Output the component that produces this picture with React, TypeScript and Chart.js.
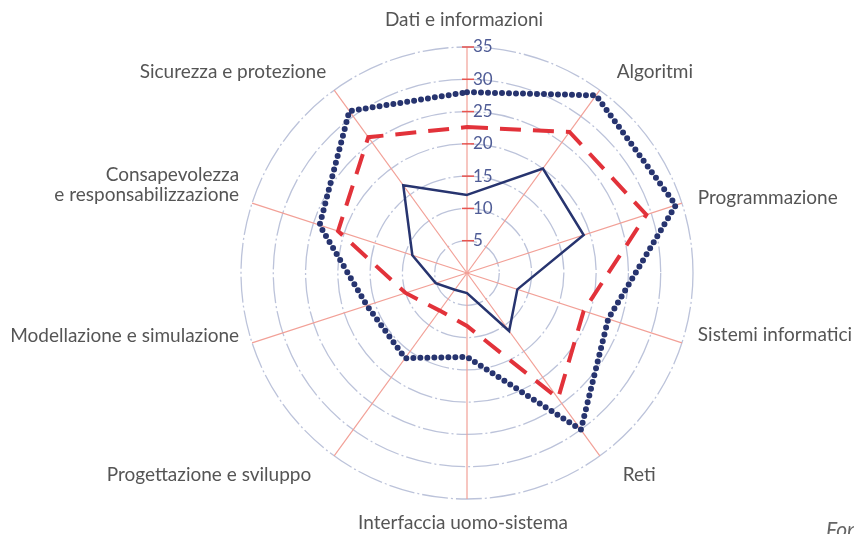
import React, { useEffect, useRef } from "react";
import { Chart, registerables } from "chart.js";

Chart.register(...registerables);

const categories: (string | string[])[] = [
  "Dati e informazioni",
  "Algoritmi",
  "Programmazione",
  "Sistemi informatici",
  "Reti",
  "Interfaccia uomo-sistema",
  "Progettazione e sviluppo",
  "Modellazione e simulazione",
  ["Consapevolezza", "e responsabilizzazione"],
  "Sicurezza e protezione",
];

const seriesDotted = [28, 34, 34, 23, 30, 13, 16.3, 16.3, 24, 31];
const seriesDashed = [22.6, 27, 29.2, 19, 24, 8.2, 7.2, 10, 21, 26];
const seriesSolid = [12.1, 20, 19, 8.2, 11.1, 3.1, 3.2, 5.1, 8.9, 16.8];

const scaleMin = 0;
const scaleMax = 35;
const scaleStep = 5;

const footText = "Fonte";

const NAVY = "#27346f";
const RED = "#e2323a";
const LABEL_FONT = "19px Lato";

// label placement tweaks (alignment/nudges), relative to the scale's point position
const labelNudges: { align: CanvasTextAlign; dx: number; dy: number }[] = [
  { align: "center", dx: -3, dy: -5 },
  { align: "left", dx: 4, dy: 0 },
  { align: "left", dx: -5, dy: 2 },
  { align: "left", dx: -5, dy: -15 },
  { align: "left", dx: 10, dy: 1 },
  { align: "center", dx: -4, dy: 2 },
  { align: "right", dx: -10, dy: 1 },
  { align: "right", dx: 8, dy: -14 },
  { align: "right", dx: 8, dy: -21 },
  { align: "right", dx: 5, dy: 0 },
];

const tickPlugin = {
  id: "axisTicks",
  beforeDatasetsDraw(chart: any) {
    const s = chart.scales.r;
    const ctx = chart.ctx as CanvasRenderingContext2D;
    ctx.save();
    ctx.font = "17px Lato";
    ctx.textAlign = "left";
    ctx.textBaseline = "middle";
    s.ticks.forEach((t: any) => {
      if (t.value === 0) return;
      const d = s.getDistanceFromCenterForValue(t.value);
      const x = s.xCenter;
      const y = s.yCenter - d;
      ctx.strokeStyle = "#e8544f";
      ctx.lineWidth = 1.5;
      ctx.beginPath();
      ctx.moveTo(x - 5, y);
      ctx.lineTo(x + 7, y);
      ctx.stroke();
      ctx.fillStyle = "#4f5c96";
      ctx.fillText(String(t.value), x + 6, y);
    });
    ctx.restore();
  },
};

const labelPlugin = {
  id: "pointLabelsCustom",
  afterDraw(chart: any) {
    const s = chart.scales.r;
    const ctx = chart.ctx as CanvasRenderingContext2D;
    ctx.save();
    ctx.font = LABEL_FONT;
    ctx.fillStyle = "#555555";
    ctx.textBaseline = "middle";
    categories.forEach((lab, i) => {
      const p = s.getPointPosition(i, s.drawingArea + 22);
      const n = labelNudges[i];
      ctx.textAlign = n.align;
      const lines = Array.isArray(lab) ? lab : [lab];
      lines.forEach((ln, j) => {
        ctx.fillText(ln, p.x + n.dx, p.y + n.dy + j * 20);
      });
    });
    ctx.restore();
  },
};

export default function App() {
  const ref = useRef<HTMLCanvasElement | null>(null);

  useEffect(() => {
    if (!ref.current) return;
    const chart = new Chart(ref.current, {
      type: "radar",
      data: {
        labels: categories as any,
        datasets: [
          {
            data: seriesSolid,
            borderColor: NAVY,
            borderWidth: 2.5,
            fill: false,
            pointRadius: 0,
          },
          {
            data: seriesDashed,
            borderColor: RED,
            borderWidth: 4,
            borderDash: [21, 12],
            fill: false,
            pointRadius: 0,
          },
          {
            data: seriesDotted,
            borderColor: NAVY,
            borderWidth: 6,
            borderDash: [0, 7],
            borderCapStyle: "round",
            borderJoinStyle: "round",
            fill: false,
            pointRadius: 0,
          },
        ],
      },
      options: {
        responsive: false,
        animation: false,
        layout: { padding: { left: 241, right: 161, top: 47, bottom: 35 } },
        plugins: {
          legend: { display: false },
          tooltip: { enabled: false },
        },
        elements: { line: { tension: 0 } },
        scales: {
          r: {
            min: scaleMin,
            max: scaleMax,
            ticks: { stepSize: scaleStep, display: false },
            pointLabels: { display: false },
            grid: { color: "#bcc3da", lineWidth: 1.3, circular: true },
            border: { dash: [26, 3, 2, 3] },
            angleLines: { color: "#f2a097", lineWidth: 1.2 },
          },
        },
      } as any,
      plugins: [tickPlugin, labelPlugin],
    });
    return () => chart.destroy();
  }, []);

  return (
    <div
      style={{
        position: "fixed",
        left: 0,
        top: 0,
        width: 854,
        height: 534,
        overflow: "hidden",
        background: "#fff",
      }}
    >
      <canvas ref={ref} width={854} height={534} style={{ display: "block" }} />
      <div
        style={{
          position: "absolute",
          left: 826,
          top: 516,
          fontFamily: "Lato",
          fontStyle: "italic",
          fontSize: 21,
          color: "#666",
          whiteSpace: "nowrap",
        }}
      >
        {footText}
      </div>
    </div>
  );
}
